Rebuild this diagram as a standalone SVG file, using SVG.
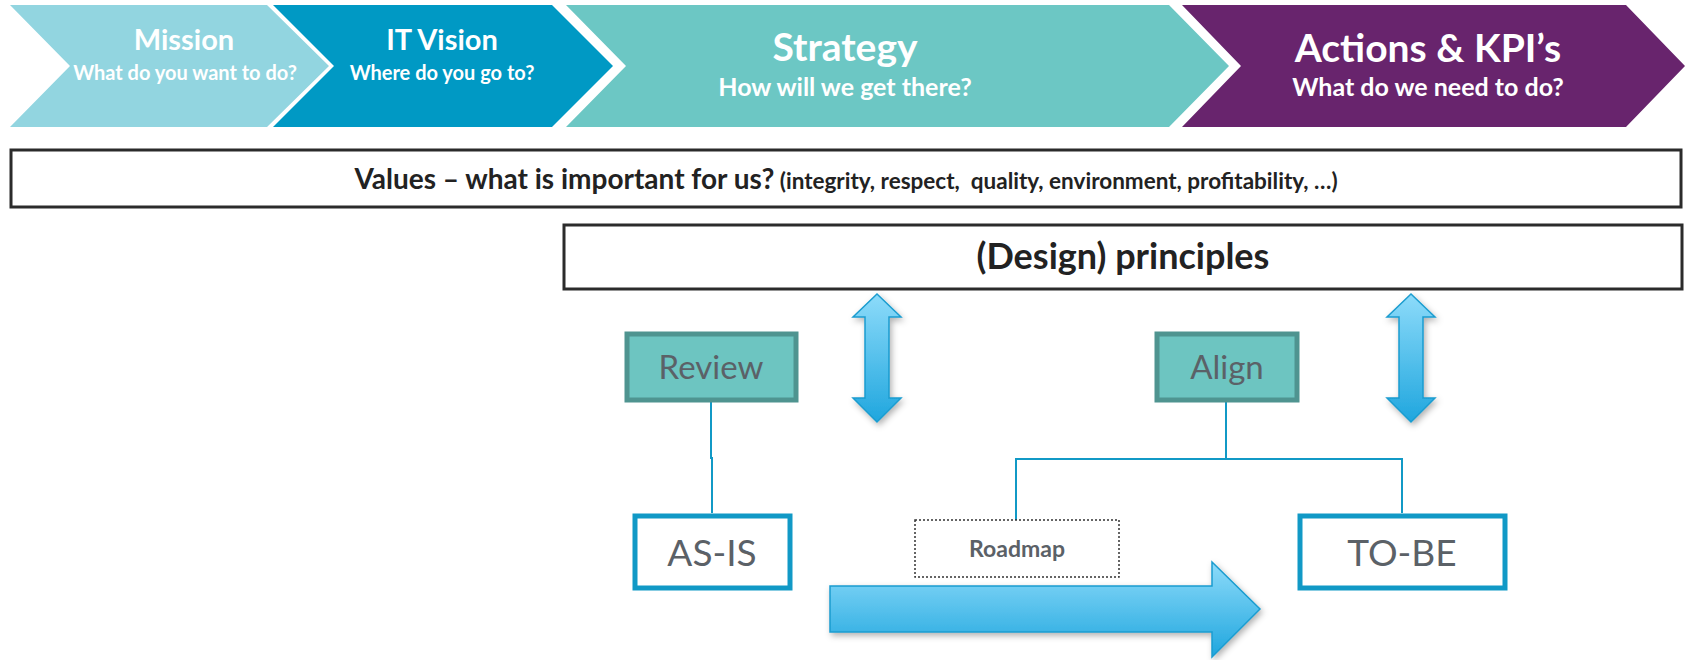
<svg xmlns="http://www.w3.org/2000/svg" width="1688" height="660" viewBox="0 0 1688 660">
<style>
.ttl{font-family:Lato,"Open Sans",sans-serif;font-weight:bold;fill:#ffffff;text-anchor:middle}
.box{fill:#ffffff;stroke:#2b2b2b;stroke-width:3}
.teal{fill:#6dc5c1;stroke:#4f9490;stroke-width:5}
.blue{fill:#ffffff;stroke:#1199c6;stroke-width:5}
.lbl{font-family:Lato,"Open Sans",sans-serif;fill:#5b6167;text-anchor:middle}
.conn{fill:none;stroke:#1199c6;stroke-width:2}
.arr{fill:url(#g);stroke:#1a9ccf;stroke-width:1.5;filter:url(#sh)}
</style>
<defs>
<linearGradient id="g" x1="0" y1="0" x2="0" y2="1">
<stop offset="0" stop-color="#8ddbfa"/>
<stop offset="1" stop-color="#1fa6de"/>
</linearGradient>
<filter id="sh" x="-20%" y="-20%" width="140%" height="140%">
<feDropShadow dx="2" dy="3" stdDeviation="3" flood-color="#000" flood-opacity="0.3"/>
</filter>
</defs>
<g id="mission">
<path d="M10,5 L267,5 L329,66 L267,127 L10,127 L70,66 Z" fill="#92d5e0"/>
<text class="ttl" x="184" y="50" font-size="29">Mission</text>
<text class="ttl" x="185" y="80" font-size="20">What do you want to do?</text>
</g>
<g id="itvision">
<path d="M273,5 L552,5 L613,66 L552,127 L273,127 L334,66 Z" fill="#0099c4"/>
<text class="ttl" x="442" y="50" font-size="29">IT Vision</text>
<text class="ttl" x="442" y="80" font-size="20">Where do you go to?</text>
</g>
<g id="strategy">
<path d="M566,5 L1169,5 L1229,66 L1169,127 L566,127 L626,66 Z" fill="#6cc7c4"/>
<text class="ttl" x="845" y="61" font-size="39">Strategy</text>
<text class="ttl" x="845" y="96" font-size="25">How will we get there?</text>
</g>
<g id="actions">
<path d="M1182,5 L1626,5 L1685,66 L1626,127 L1182,127 L1241,66 Z" fill="#68246d"/>
<text class="ttl" x="1428" y="62" font-size="39">Actions &amp; KPI’s</text>
<text class="ttl" x="1428" y="96" font-size="25">What do we need to do?</text>
</g>
<g id="values">
<rect class="box" x="11" y="150" width="1670" height="57"/>
<text x="846" y="189" style="font-family:Lato,'Open Sans',sans-serif;font-weight:bold;fill:#222;white-space:pre" text-anchor="middle"><tspan font-size="28">Values – what is important for us?</tspan><tspan font-size="22.5"> (integrity, respect,  quality, environment, profitability, …)</tspan></text>
</g>
<g id="principles">
<rect class="box" x="564" y="225" width="1118" height="64"/>
<text x="1123" y="269" style="font-family:Lato,'Open Sans',sans-serif;font-weight:bold;fill:#222" font-size="36" text-anchor="middle">(Design) principles</text>
</g>
<g id="connectors">
<path class="conn" d="M711,400 L711,458 L712,458 L712,513"/>
<path class="conn" d="M1226,400 L1226,459 M1016,520 L1016,459 L1402,459 L1402,513"/>
</g>
<g id="arrow-left">
<path class="arr" d="M877,294 L901,317 L889,317 L889,398 L901,398 L877,422 L853,398 L865,398 L865,317 L853,317 Z"/>
</g>
<g id="arrow-right">
<path class="arr" d="M1411,294 L1435,317 L1423,317 L1423,398 L1435,398 L1411,422 L1387,398 L1399,398 L1399,317 L1387,317 Z"/>
</g>
<g id="review">
<rect class="teal" x="627" y="334" width="169" height="66"/>
<text class="lbl" x="711" y="379" font-size="33">Review</text>
</g>
<g id="align">
<rect class="teal" x="1157" y="334" width="140" height="66"/>
<text class="lbl" x="1227" y="379" font-size="33">Align</text>
</g>
<g id="asis">
<rect class="blue" x="635" y="516" width="155" height="72"/>
<text class="lbl" x="712" y="566" font-size="37">AS-IS</text>
</g>
<g id="tobe">
<rect class="blue" x="1300" y="516" width="205" height="72"/>
<text class="lbl" x="1402" y="566" font-size="37">TO-BE</text>
</g>
<g id="roadmap">
<rect x="915" y="520" width="204" height="57" fill="#ffffff" stroke="#333" stroke-width="1.5" stroke-dasharray="2,2"/>
<text class="lbl" x="1017" y="557" font-size="23" font-weight="bold">Roadmap</text>
</g>
<g id="roadmap-arrow">
<path class="arr" d="M830,586 L1212,586 L1212,562 L1260,609 L1212,657 L1212,632 L830,632 Z"/>
</g>
</svg>
